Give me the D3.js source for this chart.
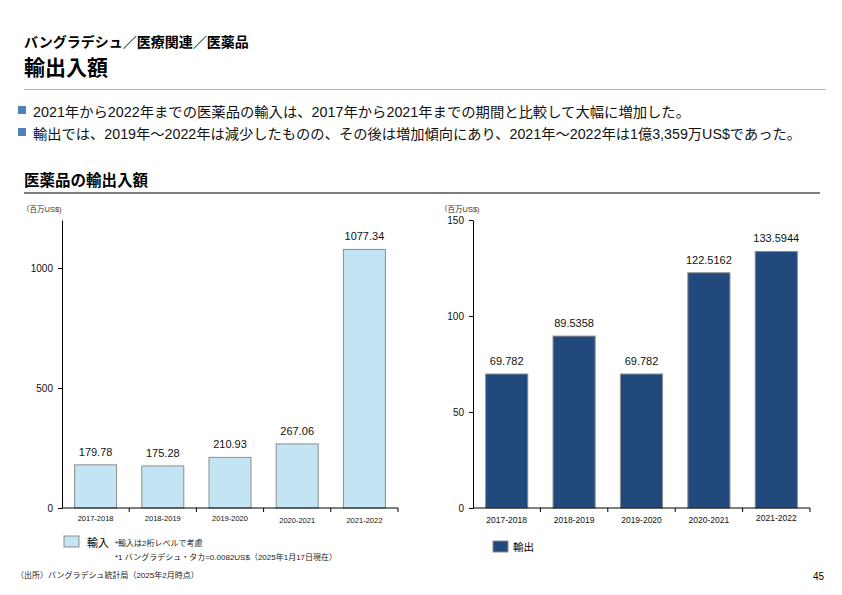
<!DOCTYPE html>
<html><head><meta charset="utf-8">
<script src="https://cdn.jsdelivr.net/npm/d3@7"></script>
<style>
body{margin:0;background:#fff;}
svg text{font-family:"Liberation Sans","Noto Sans CJK JP",sans-serif;}
</style></head>
<body><svg id="c" width="842" height="595"></svg>
<script>
const categories = ["2017-2018","2018-2019","2019-2020","2020-2021","2021-2022"];
const importValues = [179.78,175.28,210.93,267.06,1077.34];
const importLabels = ["179.78","175.28","210.93","267.06","1077.34"];
const exportValues = [69.782,89.5358,69.782,122.5162,133.5944];
const exportLabels = ["69.782","89.5358","69.782","122.5162","133.5944"];
const importTicks = [0,500,1000];
const exportTicks = [0,50,100,150];

const svg = d3.select("#c");
const jp = '"Noto Sans CJK JP",sans-serif';

// header
svg.append("text").attr("x",24).attr("y",47).attr("font-size",14).attr("font-weight","bold").style("font-family",jp).text("バングラデシュ／医療関連／医薬品");
svg.append("text").attr("x",24).attr("y",75).attr("font-size",21).attr("font-weight","bold").style("font-family",jp).text("輸出入額");
svg.append("line").attr("x1",24).attr("x2",826).attr("y1",89.5).attr("y2",89.5).attr("stroke","#b4b4b4").attr("stroke-width",1.2);

const bullets = ["2021年から2022年までの医薬品の輸入は、2017年から2021年までの期間と比較して大幅に増加した。",
"輸出では、2019年～2022年は減少したものの、その後は増加傾向にあり、2021年～2022年は1億3,359万US$であった。"];
const bulletWidths = [657, 768];
bullets.forEach((t,i)=>{
  const y = 117 + i*22;
  svg.append("rect").attr("x",18).attr("y",y-11).attr("width",8).attr("height",8).attr("fill","#4f81bd");
  svg.append("text").attr("x",33).attr("y",y).attr("font-size",14).attr("fill","#111")
    .attr("textLength",bulletWidths[i]).attr("lengthAdjust","spacingAndGlyphs").text(t);
});

svg.append("text").attr("x",24).attr("y",186).attr("font-size",15.5).attr("font-weight","bold").style("font-family",jp).text("医薬品の輸出入額");
svg.append("line").attr("x1",24).attr("x2",820).attr("y1",193).attr("y2",193).attr("stroke","#555").attr("stroke-width",1.6);

function chart(opts){
  const x = d3.scaleBand().domain(categories).range([opts.x0,opts.x1]).paddingInner(0.375).paddingOuter(0.1875);
  const y = d3.scaleLinear().domain([0,opts.max]).range([508,220]);
  const g = svg.append("g");
  g.selectAll("rect.bar").data(opts.values).join("rect").attr("class","bar")
    .attr("x",(d,i)=>x(categories[i])).attr("width",x.bandwidth())
    .attr("y",d=>y(d)).attr("height",d=>y(0)-y(d))
    .attr("fill",opts.fill).attr("stroke","#8c8c8c").attr("stroke-width",1);
  g.selectAll("text.val").data(opts.values).join("text").attr("class","val")
    .attr("x",(d,i)=>x(categories[i])+x.bandwidth()/2).attr("y",d=>y(d)-9)
    .attr("text-anchor","middle").attr("font-size",11).attr("fill","#111")
    .text((d,i)=>opts.labels[i]);
  // y axis
  const ya = d3.axisLeft(y).tickValues(opts.ticks).tickSize(4).tickSizeOuter(0).tickFormat(d3.format("d"));
  const yg = g.append("g").attr("transform",`translate(${opts.x0},0)`).call(ya);
  yg.select(".domain").attr("stroke","#000");
  yg.selectAll("text").attr("font-size",10).attr("fill","#111").attr("dx",-2);
  // x axis
  const xl = d3.scaleLinear().domain([0,5]).range([opts.x0,opts.x1]);
  const xg = g.append("g").attr("transform","translate(0,508)");
  xg.append("line").attr("x1",opts.x0).attr("x2",opts.x1).attr("stroke","#000");
  xg.selectAll("line.t").data(d3.range(1,6)).join("line").attr("class","t")
    .attr("x1",d=>xl(d)).attr("x2",d=>xl(d)).attr("y1",0).attr("y2",4).attr("stroke","#000");
  xg.selectAll("text").data(categories).join("text")
    .attr("x",d=>x(d)+x.bandwidth()/2).attr("y",(d,i)=>opts.labelY[i])
    .attr("text-anchor","middle").attr("font-size",opts.xfs).attr("fill","#111").text(d=>d);
  svg.append("text").attr("x",opts.unitX).attr("y",212).attr("font-size",7.5).attr("fill","#333").text("（百万US$)");
}

chart({x0:62,x1:398,max:1200,values:importValues,labels:importLabels,ticks:importTicks,fill:"#c3e4f3",unitX:22,labelY:[13,13,13,15,15],xfs:7.5});
chart({x0:473,x1:810,max:150,values:exportValues,labels:exportLabels,ticks:exportTicks,fill:"#21497c",unitX:440,labelY:[15,15,15,15,13],xfs:8.5});

// legends
svg.append("rect").attr("x",64).attr("y",536).attr("width",15).attr("height",11).attr("fill","#c3e4f3").attr("stroke","#8c8c8c");
svg.append("text").attr("x",87).attr("y",547).attr("font-size",11).style("font-family",jp).text("輸入");
svg.append("text").attr("x",115).attr("y",546).attr("font-size",8).attr("fill","#222").text("*輸入は2桁レベルで考慮");
svg.append("text").attr("x",115).attr("y",560).attr("font-size",8).attr("fill","#222").text("*1 バングラデシュ・タカ=0.0082US$（2025年1月17日現在）");
svg.append("text").attr("x",16).attr("y",578).attr("font-size",8).attr("fill","#222").text("（出所）バングラデシュ統計局（2025年2月時点）");
svg.append("rect").attr("x",493).attr("y",541).attr("width",15).attr("height",11).attr("fill","#21497c").attr("stroke","#8c8c8c");
svg.append("text").attr("x",513).attr("y",551).attr("font-size",10.5).style("font-family",jp).text("輸出");
svg.append("text").attr("x",813).attr("y",580).attr("font-size",10).text("45");
</script></body></html>
